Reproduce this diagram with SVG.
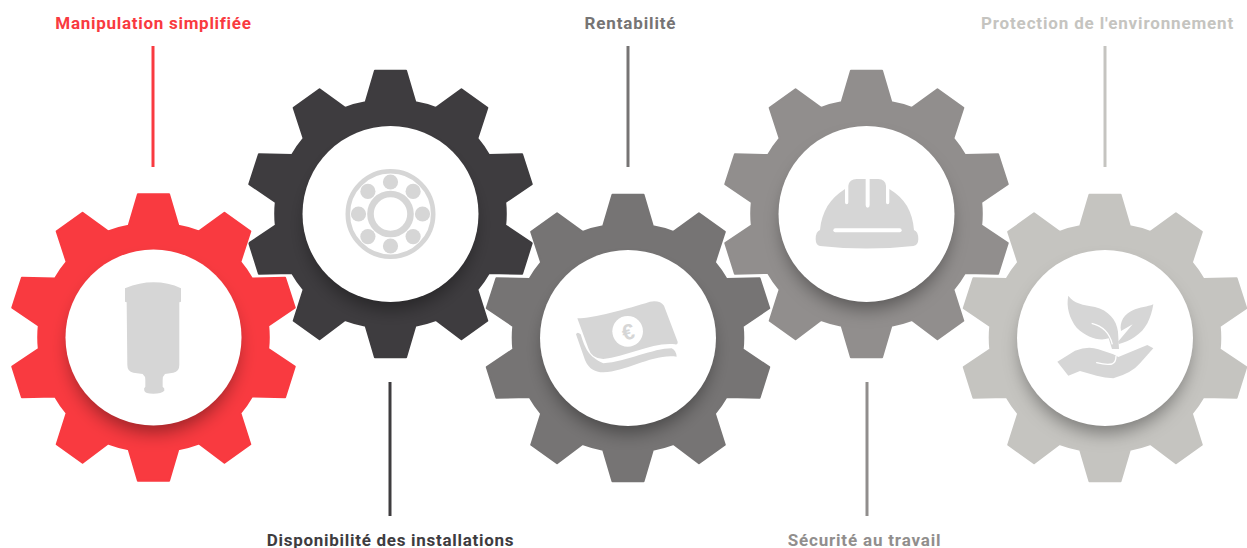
<svg xmlns="http://www.w3.org/2000/svg" xmlns:xlink="http://www.w3.org/1999/xlink" width="1247" height="548" viewBox="0 0 1247 548">
<style>
text.l{font-family:"Roboto","Liberation Sans",sans-serif;font-weight:700;font-size:17px;letter-spacing:.72px;text-anchor:middle}
.ic{fill:#d6d6d6}
.w{fill:#fff}
.edge{fill:#fff;stroke:#fff;stroke-width:11;stroke-linejoin:round}
.body{stroke-width:6;stroke-linejoin:round}
.line{stroke-width:3;fill:none}
.red{fill:#f93a40;stroke:#f93a40}
.dark{fill:#3e3c3f;stroke:#3e3c3f}
.mid{fill:#767474;stroke:#767474}
.warm{fill:#918e8d;stroke:#918e8d}
.pale{fill:#c5c4c0;stroke:#c5c4c0}
</style>
<defs>
<path id="gear" transform="scale(.3315)" d="M-75,-337L-47,-432H47L75,-337A345,345 0 0 1 137,-320L214,-376L292,-320L262,-228A345,345 0 0 1 297,-178L397,-180L426,-90L346,-36A345,345 0 0 1 346,34L426,88L397,180L297,178A345,345 0 0 1 262,228L292,322L214,378L137,320A345,345 0 0 1 75,337L47,432H-47L-75,337A345,345 0 0 1 -137,320L-214,378L-292,322L-262,228A345,345 0 0 1 -297,178L-397,180L-426,88L-346,34A345,345 0 0 1 -346,-36L-426,-90L-397,-180L-297,-178A345,345 0 0 1 -262,-228L-292,-320L-214,-376L-137,-320A345,345 0 0 1 -75,-337Z"/>
<clipPath id="gc"><use href="#gear"/></clipPath>
<filter id="blur" x="-40%" y="-40%" width="180%" height="180%"><feGaussianBlur stdDeviation="9"/></filter>
<g id="hub">
<g clip-path="url(#gc)"><circle cy="11" r="84" fill="#000" fill-opacity=".38" filter="url(#blur)"/></g>
<circle r="88" fill="#fff"/>
</g>
</defs>
<g id="connectors">
<line class="line" x1="153" y1="46" x2="153" y2="167" stroke="#f93a40"/>
<line class="line" x1="390" y1="382" x2="390" y2="516" stroke="#3e3c3f"/>
<line class="line" x1="628" y1="46" x2="628" y2="167" stroke="#767474"/>
<line class="line" x1="867" y1="382" x2="867" y2="516" stroke="#918e8d"/>
<line class="line" x1="1105" y1="46" x2="1105" y2="167" stroke="#c5c4c0"/>
</g>
<g id="node-disponibilite" transform="translate(390.5,214)">
<use href="#gear" class="edge"/><use href="#gear" class="body dark"/><use href="#hub"/>
<g fill="none" stroke="#d6d6d6"><circle r="42.7" stroke-width="4.6"/><circle r="20" stroke-width="6.6"/></g>
<g class="ic"><circle cy="-32" r="7.6"/><circle cy="32" r="7.6"/><circle cx="-32" r="7.6"/><circle cx="32" r="7.6"/><circle cx="-22.6" cy="-22.6" r="7.6"/><circle cx="22.6" cy="-22.6" r="7.6"/><circle cx="-22.6" cy="22.6" r="7.6"/><circle cx="22.6" cy="22.6" r="7.6"/></g>
</g>
<g id="node-securite" transform="translate(866.5,214)">
<use href="#gear" class="edge"/><use href="#gear" class="body warm"/><use href="#hub"/>
<g transform="translate(-66.5,-49) scale(.3333)">
<path class="ic" d="M145,62Q148,42 170,42H197V120Q197,128 203,128Q209,128 209,120V42H235Q255,42 258,62V112Q258,118 263,118Q268,118 268,112V72C315,100 338,140 342,195Q355,200 355,222Q355,240 340,243Q200,258 60,243Q47,240 47,222Q47,200 60,195C65,140 90,100 135,72V112Q135,118 140,118Q145,118 145,112Z"/>
<rect class="w" x="100" y="190" width="205" height="12" rx="6"/>
</g>
</g>
<g id="node-manipulation" transform="translate(153.5,337.5)">
<use href="#gear" class="edge"/><use href="#gear" class="body red"/><use href="#hub"/>
<g transform="translate(-43.5,-67.5) scale(.3333)">
<path class="ic" d="M45,55Q90,37 130,37Q175,37 213,55V95L208,97V285Q208,305 190,308L165,312Q158,318 158,330V350Q165,355 163,362Q155,371 130,371Q105,371 103,362Q100,355 106,350V330Q106,318 98,312L70,308Q52,305 52,285L50,97L45,95Z"/>
</g>
</g>
<g id="node-rentabilite" transform="translate(628,338)">
<use href="#gear" class="edge"/><use href="#gear" class="body mid"/><use href="#hub"/>
<g transform="translate(-68,-53) scale(.3333)">
<path class="ic" d="M52,100C100,100 200,72 270,50Q300,45 312,62L353,170Q354,180 345,178C280,170 200,215 130,222Q95,222 85,190Z"/>
<path class="ic" d="M48,148Q52,138 62,148C75,190 85,215 130,235C200,230 280,190 335,190Q348,195 350,215C280,205 200,260 130,262Q90,262 75,225Z"/>
<circle class="w" cx="203" cy="139" r="46"/>
</g>
<text transform="translate(0,-6.500) rotate(-14)" x="0" y="8" text-anchor="middle" font-family="Liberation Sans,sans-serif" font-weight="700" font-size="22" fill="#d6d6d6">€</text>
</g>
<g id="node-protection" transform="translate(1105,338)">
<use href="#gear" class="edge"/><use href="#gear" class="body pale"/><use href="#hub"/>
<g transform="translate(-55,-53) scale(.3333)">
<path class="ic" d="M55,32C70,55 100,60 135,66C175,76 200,105 204,140L207,192L186,192L176,160C150,170 110,158 80,128C58,100 48,65 55,32Z"/>
<path fill="none" stroke="#fff" stroke-width="4" d="M125,115C155,122 178,140 187,178"/>
<path class="ic" d="M310,58C303,100 288,135 255,155C240,166 222,172 207,177L204,170L248,118L213,138C208,110 222,88 250,75C270,66 292,66 310,58Z"/>
<path class="ic" d="M22,230L75,197Q115,182 145,193L190,208L205,216L292,180L310,190L270,235Q245,265 190,280Q165,278 140,272L90,258L55,272Z"/>
<path fill="none" stroke="#fff" stroke-width="4" stroke-linecap="round" d="M140,233Q170,241 186,237Q198,232 198,214"/>
</g>
</g>
<g id="labels">
<text class="l" x="153.5" y="29" fill="#f93a40">Manipulation simplifiée</text>
<text class="l" x="390.500" y="546" fill="#3e3c3f">Disponibilité des installations</text>
<text class="l" x="630.500" y="29" fill="#767474" style="letter-spacing:.85px">Rentabilité</text>
<text class="l" x="864.500" y="546" fill="#918e8d" style="letter-spacing:.82px">Sécurité au travail</text>
<text class="l" x="1107.500" y="29" fill="#c5c4c0" style="letter-spacing:.85px">Protection de l'environnement</text>
</g>
</svg>
